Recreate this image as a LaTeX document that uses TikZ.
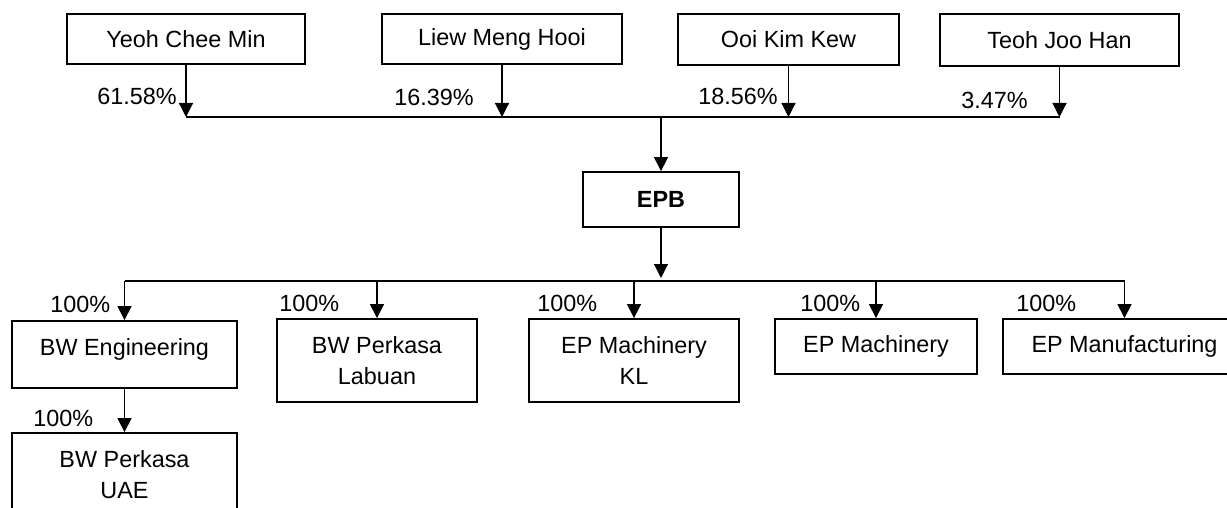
\documentclass[tikz,border=0pt]{standalone}
\usepackage{fontspec}
\setmainfont{Liberation Sans}
\usetikzlibrary{arrows.meta}

\begin{document}
\begin{tikzpicture}[x=.5pt,y=-.5pt,
  every node/.style={font=\fontsize{11.7pt}{15.5pt}\selectfont},
  box/.style={draw,line width=.9pt,align=center,inner sep=0pt},
  pct/.style={anchor=west,inner sep=0pt},
  arr/.style={line width=.6pt,-{Triangle[width=7pt,length=7pt]}}]

\useasboundingbox (0,0) rectangle (1227,508);

\node[box,minimum width=119pt,minimum height=25pt] (yeoh) at (186,39) {Yeoh Chee Min};
\node[box,minimum width=120pt,minimum height=25pt] (liew) at (502,39) {Liew Meng Hooi};
\node[box,minimum width=110.5pt,minimum height=25.5pt] (ooi) at (788.5,39.5) {Ooi Kim Kew};
\node[box,minimum width=119.5pt,minimum height=26pt] (teoh) at (1059.5,40) {Teoh Joo Han};

\node[box,minimum width=78pt,minimum height=27.5pt] (epb) at (661,199.5) {\textbf{EPB}};

\node[box,minimum width=112.5pt,minimum height=33.5pt,text height=8.4pt,text depth=7.5pt] (bweng) at (124.5,354.5) {BW Engineering};
\node[box,minimum width=100pt,minimum height=41.5pt] (labuan) at (377,360.5) {BW Perkasa\\Labuan};
\node[box,minimum width=105pt,minimum height=41.5pt] (epkl) at (634,360.5) {EP Machinery\\KL};
\node[box,minimum width=101pt,minimum height=27.5pt] (epmach) at (876,346.5) {EP Machinery};
\node[box,minimum width=121.5pt,minimum height=27.5pt] (epmanu) at (1124.5,346.5) {EP Manufacturing};
\node[box,minimum width=112.5pt,minimum height=42pt] (bwuae) at (124.5,475) {BW Perkasa\\UAE};

\coordinate (upbar) at (0,117);
\coordinate (lowbar) at (0,281);

\draw[line width=.6pt] (yeoh.south |- upbar) -- (teoh.south |- upbar);
\foreach \n in {yeoh,liew,ooi,teoh}
  \draw[arr] (\n.south) -- (\n.south |- upbar);
\draw[arr] (epb.north |- upbar) -- (epb.north);

\draw[arr,shorten >=1.5pt] (epb.south) -- (epb.south |- lowbar);
\draw[line width=.6pt] (bweng.north |- lowbar) -- (epmanu.north |- lowbar);
\foreach \n in {bweng,labuan,epkl,epmach,epmanu}
  \draw[arr] (\n.north |- lowbar) -- (\n.north);
\draw[arr] (bweng) -- (bwuae);

\node[pct] (p1) at (97,96) {61.58\%};
\node[pct] (p2) at (394,97) {16.39\%};
\node[pct] (p3) at (698,96) {18.56\%};
\node[pct] (p4) at (961,100) {3.47\%};

\node[pct] (q1) at (50,304) {100\%};
\node[pct] (q2) at (279,303) {100\%};
\node[pct] (q3) at (537,303) {100\%};
\node[pct] (q4) at (800,303) {100\%};
\node[pct] (q5) at (1016,303) {100\%};
\node[pct] (q6) at (33,418) {100\%};

\end{tikzpicture}
\end{document}
